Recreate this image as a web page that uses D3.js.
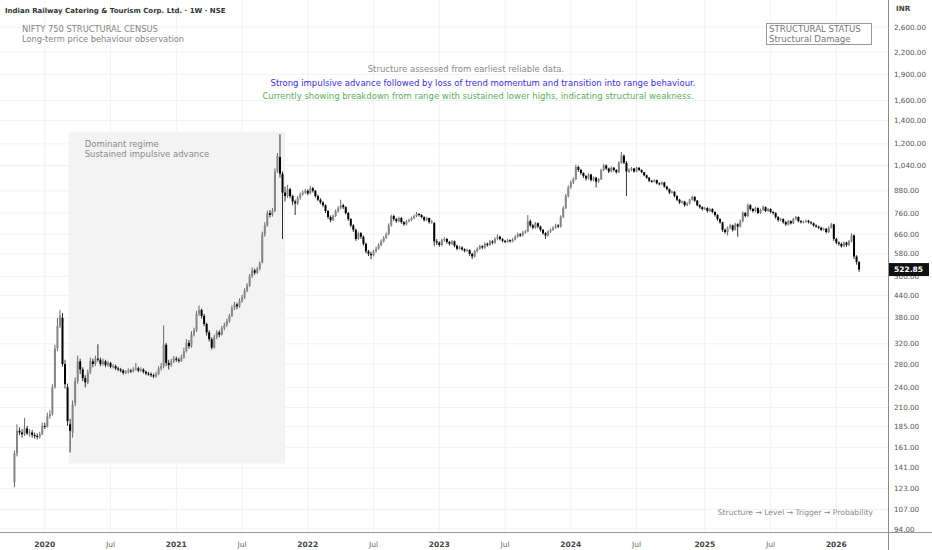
<!DOCTYPE html>
<html>
<head>
<meta charset="utf-8">
<script src="https://cdn.jsdelivr.net/npm/d3@7"></script>
<style>
  html, body { margin: 0; padding: 0; background: #fff; }
  svg { display: block; font-family: "DejaVu Sans", sans-serif; }
</style>
</head>
<body>
<div class="box"></div>
<script>
// weekly candles, first bar = week of 14 Oct 2019
const firstWeek = new Date(2019, 9, 14);

const open = [
  128,155,180,178,176,183,177,178,175,174, 173,176,186,185,198,201,240,310,360,380,
  280,240,188,178,216,250,285,270,255,248, 265,285,280,290,288,280,285,278,282,275,
  276,272,270,268,264,266,268,267,270,272, 268,270,266,263,262,260,258,262,272,276,
  318,282,278,285,290,288,286,292,305,322, 315,340,350,390,400,385,365,345,330,312,
  335,345,340,355,362,372,385,405,415,410, 425,435,455,470,500,520,512,525,548,660,
  700,760,750,770,1000,1100,985,870,850,890, 850,820,810,840,860,870,880,865,895,880,
  850,830,815,800,770,740,725,745,770,785, 800,790,760,730,700,680,640,665,650,620,
  590,580,575,590,600,615,630,645,660,700, 745,730,720,735,715,705,720,725,735,745,
  755,750,740,725,735,715,712,630,625,615, 635,640,628,620,630,612,600,605,598,592,
  595,580,570,590,600,610,605,620,615,630, 625,640,650,640,632,628,635,630,638,650,
  660,655,668,672,720,700,690,710,695,680, 665,655,672,680,690,700,695,740,785,850,
  900,930,950,1030,1010,990,970,955,980,945, 960,935,950,1010,1040,1020,1000,1025,1010,995,
  1060,1110,1060,1000,1010,1020,1000,1025,1010,995, 975,960,940,935,945,925,920,930,905,890,
  870,875,850,830,815,820,800,810,830,845, 825,800,790,780,785,770,780,765,750,730,
  715,680,670,690,700,680,705,695,720,760, 745,800,780,770,785,760,775,790,770,780,
  765,760,740,725,730,715,705,720,710,730, 740,720,715,718,722,715,710,700,695,690,
  680,685,670,690,705,640,625,620,610,625, 615,630,655,570,550
];
const high = [
  158,188,184,182,196,186,182,181,178,177, 179,190,190,203,206,245,318,380,400,392,
  288,246,195,220,256,296,290,274,260,270, 292,290,296,319,292,290,288,286,284,280,
  279,275,273,271,269,272,271,274,282,275, 274,272,268,266,265,263,266,276,282,361,
  322,288,290,295,294,292,298,312,330,328, 348,356,398,412,404,390,368,350,334,340,
  350,350,360,368,378,390,412,422,420,432, 442,462,478,508,530,526,532,552,672,715,
  772,775,785,1020,1130,1280,1000,905,915,898, 858,830,850,870,882,892,888,910,902,885,
  858,838,822,805,776,748,752,778,795,830, 808,795,765,735,706,685,672,670,655,625,
  596,588,596,608,622,638,652,668,710,752, 752,736,742,740,720,726,732,742,752,765,
  760,755,744,741,738,726,716,640,630,642, 648,645,632,636,634,616,612,610,602,600,
  598,584,596,606,616,615,626,625,636,635, 647,660,654,644,636,640,638,644,656,668,
  666,675,680,750,728,706,716,714,700,684, 670,678,686,696,708,706,748,795,862,912,
  942,962,1045,1040,1018,995,978,988,985,968, 965,958,1018,1052,1048,1026,1034,1030,1015,1070,
  1138,1120,1072,1022,1030,1025,1032,1030,1015,998, 980,964,946,950,948,930,936,934,910,894,
  882,878,855,835,826,824,816,836,852,850, 828,806,795,792,790,786,784,768,754,734,
  718,686,696,708,704,712,710,728,768,766, 810,806,786,792,790,782,798,794,786,784,
  770,764,744,736,734,720,726,724,736,745, 743,725,723,728,726,719,714,705,699,694,
  690,688,696,712,708,645,630,625,630,628, 636,665,660,575,552
];
const low = [
  124,152,175,172,174,175,173,172,171,170, 171,175,182,184,195,199,238,305,355,275,
  238,186,156,172,212,246,262,250,240,245, 262,274,276,284,276,277,274,275,272,272,
  269,267,265,261,262,263,264,265,268,265, 266,263,260,259,257,255,256,260,268,272,
  276,270,275,282,284,282,284,290,302,310, 312,336,346,385,378,360,338,325,308,310,
  330,334,338,350,358,368,382,400,402,406, 420,430,450,466,495,505,508,520,545,650,
  695,738,742,765,990,960,640,820,840,838, 800,750,800,830,852,862,855,860,870,840,
  822,805,790,760,730,715,720,740,762,778, 780,752,722,692,670,632,636,640,612,582,
  572,560,570,585,596,610,625,640,656,695, 722,712,715,708,698,700,714,720,730,740,
  742,733,718,720,708,708,610,615,608,610, 628,620,612,615,606,594,596,592,586,587,
  572,560,566,585,596,598,600,608,612,618, 620,635,634,626,622,624,625,626,634,645,
  648,650,662,668,692,682,685,688,672,658, 640,650,666,675,685,688,690,735,780,842,
  892,920,945,998,978,958,942,948,935,938, 900,928,945,1002,1010,990,995,1000,985,990,
  1052,1050,850,990,1002,992,995,1002,988,968, 952,932,928,930,918,912,914,898,882,862,
  864,842,822,806,808,792,795,805,825,818, 794,782,772,775,762,765,758,742,722,708,
  670,662,655,684,672,676,650,690,715,738, 740,772,762,765,754,755,770,764,765,758,
  752,732,718,720,708,698,700,704,706,725, 714,709,710,713,709,704,694,689,683,674,
  676,664,666,686,632,618,612,604,606,608, 610,625,560,540,515
];
const close = [
  155,180,178,176,183,177,178,175,174,173, 176,186,185,198,201,240,310,360,385,280,
  245,192,180,214,250,285,270,255,248,265, 285,280,290,288,280,285,278,282,275,276,
  272,270,268,264,266,268,267,270,272,268, 270,266,263,262,260,258,262,272,276,318,
  282,278,285,290,288,286,292,305,322,315, 340,350,390,400,385,365,345,330,312,335,
  345,340,355,362,372,385,405,415,410,425, 435,455,470,500,520,512,525,545,660,700,
  760,750,770,1000,1110,985,870,850,890,850, 820,810,840,860,870,880,865,895,880,850,
  830,815,800,770,740,725,745,770,785,800, 790,760,730,700,680,640,665,650,620,590,
  580,575,590,600,615,630,645,660,700,745, 730,720,735,715,705,720,725,735,745,755,
  750,740,725,735,715,720,630,625,615,635, 640,628,620,630,612,600,605,598,592,595,
  580,570,590,600,610,605,620,615,630,625, 640,650,640,632,628,635,630,638,650,660,
  655,668,672,720,700,690,710,695,680,665, 655,672,680,690,700,695,740,785,850,900,
  930,950,1030,1010,990,970,955,980,945,960, 935,950,1010,1040,1020,1000,1025,1010,995,1060,
  1110,1060,1000,1010,1020,1000,1025,1010,995,975, 960,940,935,945,925,920,930,905,890,870,
  875,850,830,815,820,800,810,830,845,825, 800,790,780,785,770,780,765,750,730,715,
  680,670,690,700,680,705,695,720,760,745, 800,780,770,785,760,775,790,770,780,765,
  760,740,725,730,715,705,720,710,730,740, 720,715,718,722,715,710,700,695,690,680,
  685,670,690,705,640,625,620,610,625,615, 630,655,570,550,522.85
];

const priceTicks = [94,107,123,141,161,185,210,240,280,320,380,440,500,580,660,760,880,1040,1200,1400,1600,1900,2200,2600];
const timeTicks = [
  {d: new Date(2020,0,6), t: '2020', year: true}, {d: new Date(2020,6,6), t: 'Jul'},
  {d: new Date(2021,0,4), t: '2021', year: true}, {d: new Date(2021,6,5), t: 'Jul'},
  {d: new Date(2022,0,3), t: '2022', year: true}, {d: new Date(2022,6,4), t: 'Jul'},
  {d: new Date(2023,0,2), t: '2023', year: true}, {d: new Date(2023,6,3), t: 'Jul'},
  {d: new Date(2024,0,1), t: '2024', year: true}, {d: new Date(2024,6,1), t: 'Jul'},
  {d: new Date(2025,0,6), t: '2025', year: true}, {d: new Date(2025,6,7), t: 'Jul'},
  {d: new Date(2026,0,5), t: '2026', year: true}
];
// shaded regime block : start, end, price low, price high
const regime = {from: new Date(2020,2,12), to: new Date(2021,10,1), lo: 145, hi: 1300};

const notes = [
  {t: 'Structure assessed from earliest reliable data.', c: '#8a8a8a', cx: 466},
  {t: 'Strong impulsive advance followed by loss of trend momentum and transition into range behaviour.', c: '#3a2fd4', cx: 483},
  {t: 'Currently showing breakdown from range with sustained lower highs, indicating structural weakness.', c: '#5cad5c', cx: 478}
];

// mise en place
const W = 932, H = 550;
const dims = {plotW: 888, plotH: 532};

const svg = d3.select('.box').append('svg')
              .attr('width', W).attr('height', H);

const x = d3.scaleTime()
            .domain([new Date(2019,8,4), new Date(2026,4,28)])
            .range([0, dims.plotW]);
const y = d3.scaleLog()
            .domain([92.2, 3108])
            .range([dims.plotH, 0]);

const candles = close.map((c, i) => ({
  date: d3.timeMonday.offset(firstWeek, i),
  o: open[i], h: high[i], l: low[i], c: c
}));

// grille
const grid = svg.append('g');
grid.selectAll('.hg').data(priceTicks).enter().append('line')
    .attr('x1', 0).attr('x2', dims.plotW)
    .attr('y1', d => y(d)).attr('y2', d => y(d))
    .attr('stroke', '#f1f2f5').attr('stroke-width', 1);
grid.selectAll('.vg').data(timeTicks).enter().append('line')
    .attr('x1', d => x(d.d)).attr('x2', d => x(d.d))
    .attr('y1', 0).attr('y2', dims.plotH)
    .attr('stroke', '#f1f2f5').attr('stroke-width', 1);

// bloc regime
svg.append('rect')
   .attr('x', x(regime.from)).attr('y', y(regime.hi))
   .attr('width', x(regime.to) - x(regime.from))
   .attr('height', y(regime.lo) - y(regime.hi))
   .attr('fill', '#f3f3f3');
svg.append('text').attr('x', x(regime.from) + 16).attr('y', y(regime.hi) + 15)
   .attr('font-size', 8.5).attr('fill', '#8a8a8a').text('Dominant regime');
svg.append('text').attr('x', x(regime.from) + 16).attr('y', y(regime.hi) + 25)
   .attr('font-size', 8.5).attr('fill', '#8a8a8a').text('Sustained impulsive advance');

// bougies
const bw = 2;
const g = svg.append('g');
g.selectAll('line.wick').data(candles).enter().append('line')
 .attr('x1', d => x(d.date)).attr('x2', d => x(d.date))
 .attr('y1', d => y(d.h)).attr('y2', d => y(d.l))
 .attr('stroke', d => d.c >= d.o ? '#444' : '#000')
 .attr('stroke-width', 0.8);
g.selectAll('rect.body').data(candles).enter().append('rect')
 .attr('x', d => x(d.date) - bw / 2)
 .attr('y', d => y(Math.max(d.o, d.c)))
 .attr('width', bw)
 .attr('height', d => Math.max(1, Math.abs(y(d.o) - y(d.c))))
 .attr('fill', d => d.c >= d.o ? '#868686' : '#000');

// axes
svg.append('line').attr('x1', 0).attr('x2', W).attr('y1', dims.plotH + 0.5).attr('y2', dims.plotH + 0.5)
   .attr('stroke', '#9a9a9a');
svg.append('line').attr('x1', dims.plotW + 0.5).attr('x2', dims.plotW + 0.5).attr('y1', 0).attr('y2', H)
   .attr('stroke', '#8a8a8a');

svg.selectAll('.yl').data(priceTicks.filter(d => d !== 500)).enter().append('text')
   .attr('x', dims.plotW + 6).attr('y', d => y(d)).attr('dy', '0.35em')
   .attr('font-size', 7.2).attr('fill', '#555')
   .text(d => d3.format(',.2f')(d));

svg.selectAll('.xl').data(timeTicks).enter().append('text')
   .attr('x', d => x(d.d)).attr('y', 544).attr('dy', '0.35em')
   .attr('text-anchor', 'middle').attr('font-size', 7.5)
   .attr('font-weight', d => d.year ? 'bold' : 'normal')
   .attr('fill', d => d.year ? '#444' : '#666')
   .text(d => d.t);

svg.append('text').attr('x', dims.plotW + 8).attr('y', 11).attr('font-size', 7.2)
   .attr('font-weight', 'bold').attr('fill', '#444').text('INR');

// etiquette dernier prix ; le 500.00 dessous ne montre que son bas
const last = close[close.length - 1];
svg.append('clipPath').attr('id', 'below-tag')
   .append('rect').attr('x', dims.plotW).attr('y', y(last) + 6.5).attr('width', 44).attr('height', 20);
svg.append('text').attr('clip-path', 'url(#below-tag)')
   .attr('x', dims.plotW + 6).attr('y', y(500)).attr('dy', '0.35em')
   .attr('font-size', 7.2).attr('fill', '#555').text(d3.format(',.2f')(500));
svg.append('rect').attr('x', dims.plotW + 1).attr('y', y(last) - 6.5)
   .attr('width', 40).attr('height', 13).attr('fill', '#111');
svg.append('text').attr('x', dims.plotW + 6).attr('y', y(last)).attr('dy', '0.35em')
   .attr('font-size', 7.5).attr('font-weight', 'bold').attr('fill', '#fff')
   .text(d3.format('.2f')(last));

// titres
svg.append('text').attr('x', 5).attr('y', 13).attr('font-size', 7)
   .attr('font-weight', 'bold').attr('fill', '#333')
   .text('Indian Railway Catering & Tourism Corp. Ltd. · 1W · NSE');
svg.append('text').attr('x', 22).attr('y', 32).attr('font-size', 8.3).attr('fill', '#858585')
   .text('NIFTY 750 STRUCTURAL CENSUS');
svg.append('text').attr('x', 22).attr('y', 42).attr('font-size', 8.3).attr('fill', '#858585')
   .text('Long-term price behaviour observation');

// boite statut
svg.append('rect').attr('x', 766.5).attr('y', 23.5).attr('width', 105).attr('height', 21)
   .attr('fill', '#fff').attr('stroke', '#9a9a9a');
svg.append('text').attr('x', 769).attr('y', 32).attr('font-size', 8.6).attr('fill', '#777')
   .text('STRUCTURAL STATUS');
svg.append('text').attr('x', 769).attr('y', 42).attr('font-size', 8.6).attr('fill', '#777')
   .text('Structural Damage');

// notes centrales
svg.selectAll('.note').data(notes).enter().append('text')
   .attr('x', d => d.cx).attr('y', (d, i) => 72 + i * 13.5)
   .attr('text-anchor', 'middle').attr('font-size', 8.5)
   .attr('fill', d => d.c).text(d => d.t);

svg.append('text').attr('x', 873).attr('y', 515).attr('text-anchor', 'end')
   .attr('font-size', 7.6).attr('fill', '#888')
   .text('Structure → Level → Trigger → Probability');
</script>
</body>
</html>
